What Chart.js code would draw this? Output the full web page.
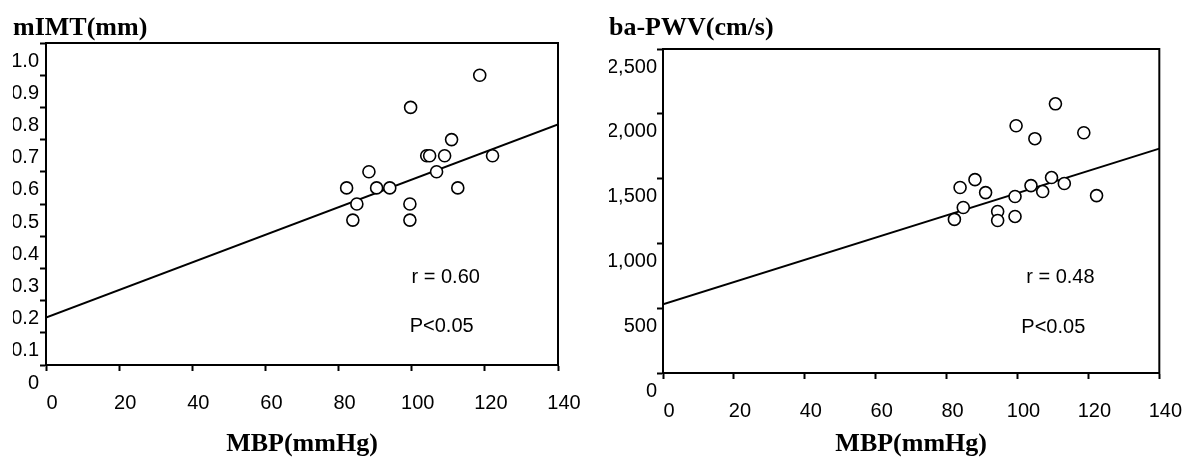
<!DOCTYPE html>
<html>
<head>
<meta charset="utf-8">
<script src="https://cdn.jsdelivr.net/npm/chart.js@4"></script>
<style>
body { margin: 0; background: #fff; }
.box { position: absolute; top: 0; width: 598px; height: 459px; }
</style>
</head>
<body>
<div class="box" style="left:0"><canvas id="imtChart"></canvas></div>
<div class="box" style="left:598px"><canvas id="pwvChart"></canvas></div>
<script>
// x axis (shared)
const xTickLabels = ['0', '20', '40', '60', '80', '100', '120', '140'];

// left: mIMT vs MBP
const mbpL = [118.6, 99.7, 110.9, 104.1, 104.9, 109.0, 122.1, 88.3, 106.8, 82.2, 90.4, 94.0, 112.6, 85.0, 99.5, 83.9, 99.5];
const imt  = [0.90, 0.80, 0.70, 0.65, 0.65, 0.65, 0.65, 0.60, 0.60, 0.55, 0.55, 0.55, 0.55, 0.50, 0.50, 0.45, 0.45];
const imtFitX = [0, 140];
const imtFitY = [0.147, 0.747];
const imtTickLabels = ['0', '0.1', '0.2', '0.3', '0.4', '0.5', '0.6', '0.7', '0.8', '0.9', '1.0'];

// right: ba-PWV vs MBP
const mbpR = [110.7, 99.6, 104.9, 118.7, 88.0, 83.8, 91.0, 109.6, 103.8, 113.2, 107.1, 99.3, 122.3, 84.7, 94.4, 94.4, 99.3, 82.2];
const pwv  = [2077, 1908, 1808, 1854, 1492, 1431, 1392, 1508, 1446, 1462, 1400, 1362, 1369, 1277, 1246, 1177, 1208, 1185];
const pwvFitX = [0, 140];
const pwvFitY = [531, 1731];
const pwvTickLabels = ['0', '500', '1,000', '1,500', '2,000', '2,500'];

Chart.defaults.font.family = '"Liberation Sans", Arial, sans-serif';
Chart.defaults.color = '#000';

const toPoints = (xs, ys) => xs.map((x, i) => ({ x: x, y: ys[i] }));

// frame round the plot area + the r / P notes
const framePlugin = {
    id: 'frame',
    afterDraw(chart, args, opts) {
        const { ctx, chartArea: a, scales } = chart;
        ctx.save();
        ctx.strokeStyle = '#000';
        ctx.lineWidth = 2;
        ctx.strokeRect(a.left, a.top, a.right - a.left, a.bottom - a.top);
        ctx.fillStyle = '#000';
        ctx.font = '20px "Liberation Sans", Arial, sans-serif';
        ctx.textAlign = 'center';
        ctx.textBaseline = 'middle';
        (opts.notes || []).forEach(n => {
            ctx.fillText(n.text, scales.x.getPixelForValue(n.x), scales.y.getPixelForValue(n.y));
        });
        ctx.restore();
    }
};

function makeChart(id, cfg) {
    const ctx = document.getElementById(id).getContext('2d');
    return new Chart(ctx, {
        type: 'scatter',
        data: {
            datasets: [{
                data: cfg.points,
                order: 0,
                pointRadius: 6,
                pointHoverRadius: 6,
                pointBorderWidth: 1.6,
                pointBorderColor: '#000',
                pointBackgroundColor: '#fff'
            }, {
                data: cfg.fit,
                order: 1,
                showLine: true,
                pointRadius: 0,
                borderColor: '#000',
                borderWidth: 2
            }]
        },
        options: {
            responsive: true,
            maintainAspectRatio: false,
            animation: false,
            layout: { padding: { left: cfg.padLeft, right: cfg.padRight, top: 0, bottom: 0 } },
            plugins: {
                legend: { display: false },
                tooltip: { enabled: false },
                title: {
                    display: true,
                    text: cfg.title,
                    align: 'start',
                    color: '#000',
                    font: { family: '"Liberation Serif", "Times New Roman", serif', size: 26, weight: 'bold', lineHeight: 1.1 },
                    padding: { top: cfg.titleTop, bottom: cfg.titleBottom }
                },
                frame: { notes: cfg.notes }
            },
            scales: {
                x: {
                    type: 'linear',
                    min: 0,
                    max: 140,
                    afterFit: s => { s.height = cfg.xHeight; },
                    ticks: {
                        stepSize: 20,
                        padding: 20,
                        labelOffset: 6,
                        maxRotation: 0,
                        font: { size: 20 },
                        callback: (v, i) => xTickLabels[i]
                    },
                    grid: { drawOnChartArea: false, tickLength: 6, tickWidth: 2, tickColor: '#000' },
                    border: { color: '#000', width: 2 },
                    title: {
                        display: true,
                        text: 'MBP(mmHg)',
                        color: '#000',
                        font: { family: '"Liberation Serif", "Times New Roman", serif', size: 26, weight: 'bold', lineHeight: 1.1 },
                        padding: { top: 0, bottom: 0 }
                    }
                },
                y: {
                    type: 'linear',
                    min: 0,
                    max: cfg.yMax,
                    afterFit: s => { s.width = cfg.yWidth; },
                    ticks: {
                        stepSize: cfg.yStep,
                        padding: cfg.yPad,
                        labelOffset: cfg.yLabelOffset,
                        font: { size: 20 },
                        callback: (v, i) => cfg.yLabels[i]
                    },
                    grid: { drawOnChartArea: false, tickLength: 6, tickWidth: 2, tickColor: '#000' },
                    border: { color: '#000', width: 2 }
                }
            }
        },
        plugins: [framePlugin]
    });
}

makeChart('imtChart', {
    title: 'mIMT(mm)',
    points: toPoints(mbpL, imt),
    fit: toPoints(imtFitX, imtFitY),
    yMax: 1.0,
    yStep: 0.1,
    yLabels: imtTickLabels,
    yLabelOffset: 18,
    yPad: 1,
    yWidth: 33,
    xHeight: 94,
    padLeft: 13,
    padRight: 40,
    titleTop: 13.7,
    titleBottom: 0.7,
    notes: [
        { text: 'r = 0.60', x: 109.3, y: 0.272 },
        { text: 'P<0.05', x: 108.2, y: 0.119 }
    ]
});

makeChart('pwvChart', {
    title: 'ba-PWV(cm/s)',
    points: toPoints(mbpR, pwv),
    fit: toPoints(pwvFitX, pwvFitY),
    yMax: 2500,
    yStep: 500,
    yLabels: pwvTickLabels,
    yLabelOffset: 18,
    yPad: 0,
    yWidth: 54,
    xHeight: 86,
    padLeft: 11,
    padRight: 27,
    titleTop: 13.7,
    titleBottom: 6.7,
    notes: [
        { text: 'r = 0.48', x: 112.1, y: 738 },
        { text: 'P<0.05', x: 110.1, y: 354 }
    ]
});
</script>
</body>
</html>
